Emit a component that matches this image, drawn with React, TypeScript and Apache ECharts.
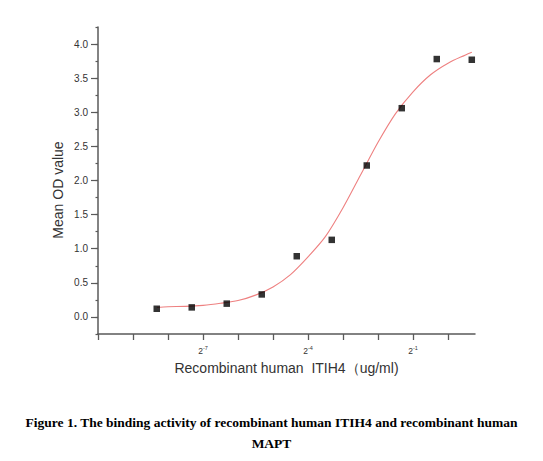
import React, { useEffect, useRef } from "react";
import * as echarts from "echarts";

// Concentrations (ug/ml), two-fold dilution series
const concentrations = [0.003125, 0.00625, 0.0125, 0.025, 0.05, 0.1, 0.2, 0.4, 0.8, 1.6];
// Mean OD values
const meanOD = [0.12, 0.14, 0.195, 0.33, 0.89, 1.13, 2.22, 3.06, 3.78, 3.77];

// Fitted curve (x as log2 of concentration)
const curveLog2X = [-8.32, -8, -7.5, -7, -6.5, -6, -5.5, -5, -4.5, -4, -3.5, -3, -2.5, -2, -1.5, -1, -0.5, 0, 0.5, 0.68];
const curveY = [0.14, 0.15, 0.155, 0.17, 0.2, 0.24, 0.32, 0.44, 0.62, 0.88, 1.18, 1.6, 2.08, 2.56, 2.98, 3.3, 3.55, 3.72, 3.84, 3.88];

// Tick labels on the x axis (log2 exponents)
const xLabelExponents = [-7, -4, -1];

const xTitle = "Recombinant human  ITIH4（ug/ml)";
const yTitle = "Mean OD value";
const captionLine1 = "Figure 1. The binding activity of recombinant human ITIH4 and recombinant human";
const captionLine2 = "MAPT";

export default function App() {
  const ref = useRef<HTMLDivElement>(null);
  useEffect(() => {
    if (!ref.current) return;
    const chart = echarts.init(ref.current, undefined, { renderer: "svg" });
    const axisColor = "#5a5a5a";
    const textColor = "#333";
    const font = "Liberation Sans";
    const left = 98;
    const top = 27;
    const fullW = 377;
    const fullH = 307;
    const pxPerX = fullW / 10.77;
    const pxPerY = fullH / 4.5;

    const points = concentrations.map((c, i) => [Math.log2(c), meanOD[i]]);
    const curve = curveLog2X.map((x, i) => [x, curveY[i]]);

    chart.setOption({
      animation: false,
      title: [
        {
          text: captionLine1,
          left: "center",
          top: 410,
          textStyle: { fontFamily: "Liberation Serif", fontWeight: "bold", fontSize: 13.5, color: "#000" },
        },
        {
          text: captionLine2,
          left: "center",
          top: 431,
          textStyle: { fontFamily: "Liberation Serif", fontWeight: "bold", fontSize: 13.5, color: "#000" },
        },
      ],
      graphic: [
        {
          type: "text",
          x: 58,
          y: 190,
          rotation: Math.PI / 2,
          style: {
            text: yTitle,
            fontFamily: font,
            fontSize: 14,
            fill: textColor,
            align: "center",
            verticalAlign: "middle",
          },
        },
      ],
      grid: [
        { left, top, width: fullW, height: fullH },
        { left, top, width: pxPerX * 10, height: fullH },
        { left, top: top + 0.25 * pxPerY, width: fullW, height: 4 * pxPerY },
      ],
      xAxis: [
        {
          type: "value",
          gridIndex: 0,
          min: -10,
          max: 0.77,
          axisLine: { show: true, onZero: false, lineStyle: { color: axisColor, width: 1.5 } },
          axisTick: { show: false },
          axisLabel: { show: false },
          splitLine: { show: false },
          name: xTitle,
          nameLocation: "middle",
          nameGap: 27,
          nameTextStyle: { fontFamily: font, fontSize: 14, color: textColor },
        },
        {
          type: "value",
          gridIndex: 1,
          min: -10,
          max: 0,
          interval: 1,
          axisLine: { show: false, onZero: false },
          axisTick: { show: true, length: 6, lineStyle: { color: axisColor, width: 1.3 } },
          axisLabel: {
            show: true,
            margin: 11,
            formatter: (v: number) => (xLabelExponents.includes(Math.round(v)) ? `{b|2}{s|${Math.round(v)}}` : ""),
            rich: {
              b: { fontFamily: font, fontSize: 8.5, color: textColor },
              s: { fontFamily: font, fontSize: 5.5, color: textColor, padding: [0, 0, 6, 0] },
            },
          },
          splitLine: { show: false },
        },
        { type: "value", gridIndex: 2, min: -10, max: 0.77, show: false, axisLine: { onZero: false } },
      ],
      yAxis: [
        {
          type: "value",
          gridIndex: 0,
          min: -0.25,
          max: 4.25,
          interval: 0.25,
          axisLine: { show: true, onZero: false, lineStyle: { color: axisColor, width: 1.5 } },
          axisTick: { show: true, length: 2.5, lineStyle: { color: axisColor, width: 1.2 } },
          axisLabel: { show: false },
          splitLine: { show: false },
        },
        { type: "value", gridIndex: 1, min: -0.25, max: 4.25, show: false, axisLine: { onZero: false } },
        {
          type: "value",
          gridIndex: 2,
          min: 0,
          max: 4,
          interval: 0.5,
          axisLine: { show: false, onZero: false },
          axisTick: { show: true, length: 7, lineStyle: { color: axisColor, width: 1.2 } },
          axisLabel: {
            show: true,
            margin: 10,
            formatter: (v: number) => v.toFixed(1),
            fontFamily: font,
            fontSize: 10,
            color: textColor,
          },
          splitLine: { show: false },
        },
      ],
      series: [
        {
          type: "line",
          xAxisIndex: 0,
          yAxisIndex: 0,
          data: curve,
          smooth: 0.3,
          showSymbol: false,
          lineStyle: { color: "#ee8080", width: 1.1 },
          z: 1,
        },
        {
          type: "scatter",
          xAxisIndex: 0,
          yAxisIndex: 0,
          data: points,
          symbol: "rect",
          symbolSize: 6.5,
          itemStyle: { color: "#000" },
          z: 2,
        },
      ],
    });
    return () => chart.dispose();
  }, []);
  return (
    <div
      ref={ref}
      style={{ position: "fixed", left: 0, top: 0, width: 543, height: 461, background: "#fff" }}
    />
  );
}
